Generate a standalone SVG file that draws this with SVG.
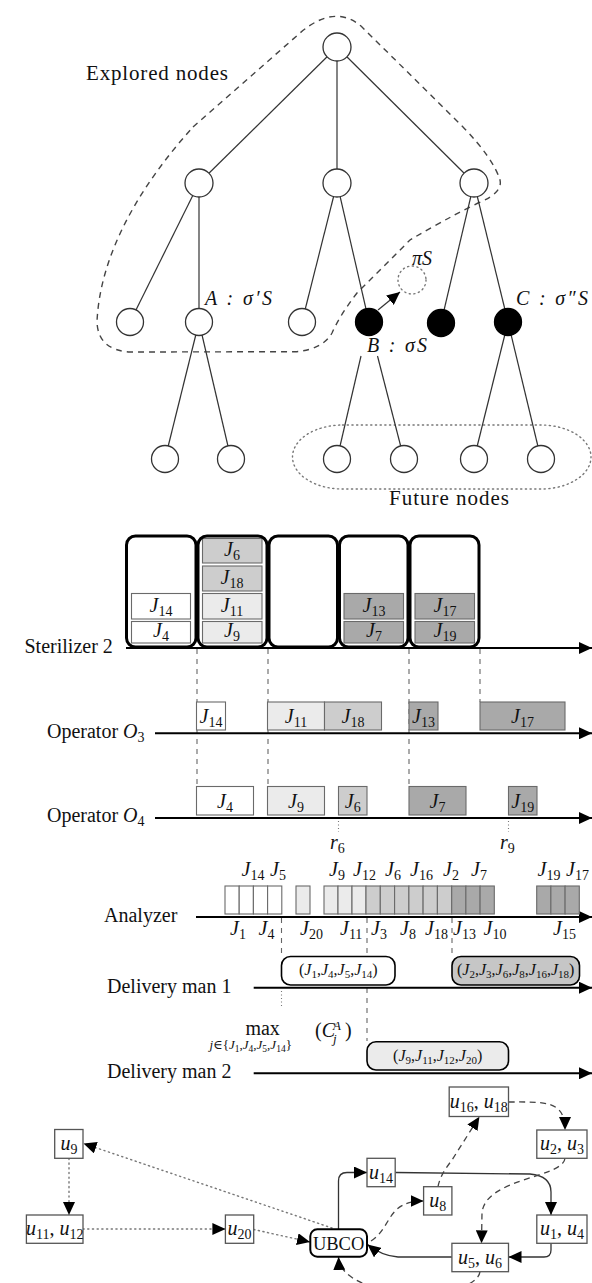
<svg xmlns="http://www.w3.org/2000/svg" width="592" height="1283" viewBox="0 0 592 1283" font-family="Liberation Serif, Times New Roman, DejaVu Serif, serif">
<style>
text,tspan{font-family:'Liberation Serif','Times New Roman','DejaVu Serif',serif}
.t{fill:#111}
.it{font-style:italic}
.jl{font-size:20px}
.s{font-size:14px}
.edge{stroke:#333;stroke-width:1.2;fill:none}
.node{fill:#fff;stroke:#333;stroke-width:1.3}
.fnode{fill:#000;stroke:#000;stroke-width:1.3}
.bound{fill:none;stroke:#444;stroke-width:1.4;stroke-dasharray:6,5}
.future{fill:none;stroke:#777;stroke-width:1.4;stroke-dasharray:1.2,3.5;stroke-linecap:round}
.ster{fill:none;stroke:#000;stroke-width:3}
.job{stroke:#6a6a6a;stroke-width:1.1}
.w{fill:#fff}.l{fill:#ebebeb}.m{fill:#cdcdcd}.d{fill:#a9a9a9}
.axis{stroke:#000;stroke-width:2;fill:none}
.vd{stroke:#666;stroke-width:1.1;stroke-dasharray:5,5;fill:none}
.vdot{stroke:#777;stroke-width:1.1;stroke-dasharray:1,2.5;fill:none}
.box{fill:#fff;stroke:#555;stroke-width:1.3}
.dbox{stroke:#000;stroke-width:1.6}
.c-solid{stroke:#333;stroke-width:1.3;fill:none}
.c-dash{stroke:#444;stroke-width:1.3;fill:none;stroke-dasharray:6,4.5}
.c-dot{stroke:#777;stroke-width:1.4;fill:none;stroke-dasharray:1.2,3.5;stroke-linecap:round}
</style>
<defs>
<marker id="ax" markerUnits="userSpaceOnUse" viewBox="0 0 13 12" refX="13" refY="6" markerWidth="13" markerHeight="12" orient="auto"><path d="M0,0 L13,6 L0,12 Z" fill="#000"/></marker>
<marker id="ar" markerUnits="userSpaceOnUse" viewBox="0 0 13 12" refX="13" refY="6" markerWidth="13" markerHeight="12" orient="auto"><path d="M0,0 L13,6 L0,12 Z" fill="#000"/></marker>
</defs>

<!-- ============ TREE ============ -->
<g id="tree-regions">
<path class="bound" d="M 193,127 L 300,33 Q 335,3 362,27 L 463,127 Q 493,158 500,180 Q 503,193 478,203 Q 440,222 410,240 L 357,293 Q 340,315 332,333 Q 322,350 295,351.7 L 130,352 Q 98,350 97,322 C 100,250 145,180 193,127 Z"/>
<rect class="future" x="292.5" y="425" width="298.5" height="64" rx="50" ry="32"/>
<text class="t" x="86" y="80" font-size="21" textLength="142" lengthAdjust="spacing">Explored nodes</text>
<text class="t" x="389" y="505" font-size="21" textLength="120" lengthAdjust="spacing">Future nodes</text>
</g>
<g id="tree-edges">
<line class="edge" x1="337" y1="47" x2="199" y2="183"/>
<line class="edge" x1="337" y1="47" x2="337" y2="183"/>
<line class="edge" x1="337" y1="47" x2="474" y2="183"/>
<line class="edge" x1="199" y1="183" x2="130" y2="322"/>
<line class="edge" x1="199" y1="183" x2="199" y2="322"/>
<line class="edge" x1="337" y1="183" x2="302" y2="322"/>
<line class="edge" x1="337" y1="183" x2="369" y2="322"/>
<line class="edge" x1="474" y1="183" x2="441" y2="323"/>
<line class="edge" x1="474" y1="183" x2="508" y2="322"/>
<line class="edge" x1="199" y1="322" x2="165" y2="459"/>
<line class="edge" x1="199" y1="322" x2="231" y2="459"/>
<line class="edge" x1="361" y1="356" x2="337" y2="459"/>
<line class="edge" x1="377.5" y1="356" x2="404" y2="459"/>
<line class="edge" x1="508" y1="322" x2="474" y2="459"/>
<line class="edge" x1="508" y1="322" x2="541" y2="459"/>
<line class="edge" x1="378" y1="310" x2="400" y2="292" marker-end="url(#ar)"/>
</g>
<g id="n-root"><circle class="node" cx="337" cy="47" r="14"/></g>
<g id="n-1a"><circle class="node" cx="199" cy="183" r="14"/></g>
<g id="n-1b"><circle class="node" cx="337" cy="183" r="14"/></g>
<g id="n-1c"><circle class="node" cx="474" cy="183" r="14"/></g>
<g id="n-2a"><circle class="node" cx="130" cy="322" r="13.5"/></g>
<g id="n-A"><circle class="node" cx="199" cy="322" r="13.5"/>
<text class="t it" x="205" y="305" font-size="20" textLength="67" lengthAdjust="spacing">A : σ′S</text></g>
<g id="n-2c"><circle class="node" cx="302" cy="322" r="13.5"/></g>
<g id="n-B"><circle class="fnode" cx="369" cy="322" r="13.5"/>
<text class="t it" x="367" y="352" font-size="20" textLength="60" lengthAdjust="spacing">B : σS</text></g>
<g id="n-2e"><circle class="fnode" cx="441" cy="323" r="13.5"/></g>
<g id="n-C"><circle class="fnode" cx="508" cy="322" r="13.5"/>
<text class="t it" x="516" y="305" font-size="20" textLength="72" lengthAdjust="spacing">C : σ″S</text></g>
<g id="n-piS"><circle class="future" cx="412" cy="280" r="14"/>
<text class="t it" x="412" y="265" font-size="20">πS</text></g>
<g id="n-3a"><circle class="node" cx="165" cy="459" r="13.5"/></g>
<g id="n-3b"><circle class="node" cx="231" cy="459" r="13.5"/></g>
<g id="n-3c"><circle class="node" cx="337" cy="459" r="13.5"/></g>
<g id="n-3d"><circle class="node" cx="404" cy="459" r="13.5"/></g>
<g id="n-3e"><circle class="node" cx="474" cy="459" r="13.5"/></g>
<g id="n-3f"><circle class="node" cx="541" cy="459" r="13.5"/></g>

<!-- ============ GANTT ============ -->
<g id="gantt-guides">
<line class="vd" x1="197" y1="649" x2="197" y2="786"/>
<line class="vd" x1="268" y1="649" x2="268" y2="786"/>
<line class="vd" x1="409" y1="649" x2="409" y2="786"/>
<line class="vd" x1="480" y1="649" x2="480" y2="702"/>
<line class="vdot" x1="338.5" y1="821" x2="338.5" y2="832"/>
<line class="vdot" x1="508.5" y1="821" x2="508.5" y2="832"/>
<line class="vd" x1="281.5" y1="918" x2="281.5" y2="956"/>
<line class="vd" x1="367" y1="918" x2="367" y2="1041"/>
<line class="vd" x1="452" y1="918" x2="452" y2="956"/>
<line class="vdot" x1="281.5" y1="991" x2="281.5" y2="1007"/>
</g>

<g id="sterilizer">
<line class="axis" x1="126" y1="648" x2="592" y2="648" marker-end="url(#ax)"/>
<text class="t" x="24.5" y="653" font-size="20">Sterilizer 2</text>
<rect class="job w" x="131.5" y="593.5" width="59" height="25.5"/>
<rect class="job w" x="131.5" y="621.5" width="59" height="21.5"/>
<rect class="job m" x="202.5" y="538.5" width="59.5" height="24.5"/>
<rect class="job m" x="202.5" y="566" width="59.5" height="25"/>
<rect class="job l" x="202.5" y="593.5" width="59.5" height="25.5"/>
<rect class="job l" x="202.5" y="621.5" width="59.5" height="21.5"/>
<rect class="job d" x="344" y="593.5" width="59.5" height="25.5"/>
<rect class="job d" x="344" y="621.5" width="59.5" height="21.5"/>
<rect class="job d" x="415" y="593.5" width="59.5" height="25.5"/>
<rect class="job d" x="415" y="621.5" width="59.5" height="21.5"/>
<rect class="ster" x="126.5" y="536" width="69.5" height="111" rx="9"/>
<rect class="ster" x="198" y="536" width="69" height="111" rx="9"/>
<rect class="ster" x="269" y="536" width="68.5" height="111" rx="9"/>
<rect class="ster" x="339.5" y="536" width="68.5" height="111" rx="9"/>
<rect class="ster" x="410" y="536" width="69" height="111" rx="9"/>
<text class="t jl" x="161" y="612" text-anchor="middle"><tspan class="it">J</tspan><tspan class="s" dy="4">14</tspan></text>
<text class="t jl" x="161" y="637" text-anchor="middle"><tspan class="it">J</tspan><tspan class="s" dy="4">4</tspan></text>
<text class="t jl" x="232" y="556" text-anchor="middle"><tspan class="it">J</tspan><tspan class="s" dy="4">6</tspan></text>
<text class="t jl" x="232" y="584" text-anchor="middle"><tspan class="it">J</tspan><tspan class="s" dy="4">18</tspan></text>
<text class="t jl" x="232" y="612" text-anchor="middle"><tspan class="it">J</tspan><tspan class="s" dy="4">11</tspan></text>
<text class="t jl" x="232" y="637" text-anchor="middle"><tspan class="it">J</tspan><tspan class="s" dy="4">9</tspan></text>
<text class="t jl" x="374" y="612" text-anchor="middle"><tspan class="it">J</tspan><tspan class="s" dy="4">13</tspan></text>
<text class="t jl" x="374" y="637" text-anchor="middle"><tspan class="it">J</tspan><tspan class="s" dy="4">7</tspan></text>
<text class="t jl" x="445" y="612" text-anchor="middle"><tspan class="it">J</tspan><tspan class="s" dy="4">17</tspan></text>
<text class="t jl" x="445" y="637" text-anchor="middle"><tspan class="it">J</tspan><tspan class="s" dy="4">19</tspan></text>
</g>

<g id="operator-o3">
<line class="axis" x1="155" y1="733.3" x2="592" y2="733.3" marker-end="url(#ax)"/>
<text class="t" x="47" y="738" font-size="20">Operator <tspan class="it">O</tspan><tspan class="s" dy="4">3</tspan></text>
<rect class="job w" x="196.5" y="702" width="29" height="28"/>
<rect class="job l" x="267.5" y="702" width="57" height="28"/>
<rect class="job m" x="324.5" y="702" width="57" height="28"/>
<rect class="job d" x="409" y="702" width="29" height="28"/>
<rect class="job d" x="480" y="702" width="85" height="28"/>
<text class="t jl" x="211" y="723" text-anchor="middle"><tspan class="it">J</tspan><tspan class="s" dy="4">14</tspan></text>
<text class="t jl" x="296" y="723" text-anchor="middle"><tspan class="it">J</tspan><tspan class="s" dy="4">11</tspan></text>
<text class="t jl" x="353" y="723" text-anchor="middle"><tspan class="it">J</tspan><tspan class="s" dy="4">18</tspan></text>
<text class="t jl" x="423.5" y="723" text-anchor="middle"><tspan class="it">J</tspan><tspan class="s" dy="4">13</tspan></text>
<text class="t jl" x="522.5" y="723" text-anchor="middle"><tspan class="it">J</tspan><tspan class="s" dy="4">17</tspan></text>
</g>

<g id="operator-o4">
<line class="axis" x1="155" y1="818" x2="592" y2="818" marker-end="url(#ax)"/>
<text class="t" x="47" y="822" font-size="20">Operator <tspan class="it">O</tspan><tspan class="s" dy="4">4</tspan></text>
<rect class="job w" x="196.5" y="786.5" width="57" height="28.5"/>
<rect class="job l" x="267.5" y="786.5" width="57" height="28.5"/>
<rect class="job m" x="338.5" y="786.5" width="28.5" height="28.5"/>
<rect class="job d" x="409" y="786.5" width="57" height="28.5"/>
<rect class="job d" x="508.5" y="786.5" width="28.5" height="28.5"/>
<text class="t jl" x="225" y="808" text-anchor="middle"><tspan class="it">J</tspan><tspan class="s" dy="4">4</tspan></text>
<text class="t jl" x="296" y="808" text-anchor="middle"><tspan class="it">J</tspan><tspan class="s" dy="4">9</tspan></text>
<text class="t jl" x="352.7" y="808" text-anchor="middle"><tspan class="it">J</tspan><tspan class="s" dy="4">6</tspan></text>
<text class="t jl" x="437.5" y="808" text-anchor="middle"><tspan class="it">J</tspan><tspan class="s" dy="4">7</tspan></text>
<text class="t jl" x="522.7" y="808" text-anchor="middle"><tspan class="it">J</tspan><tspan class="s" dy="4">19</tspan></text>
<text class="t jl" x="330" y="849"><tspan class="it">r</tspan><tspan class="s" dy="4">6</tspan></text>
<text class="t jl" x="500" y="849"><tspan class="it">r</tspan><tspan class="s" dy="4">9</tspan></text>
</g>

<g id="analyzer">
<line class="axis" x1="196" y1="917" x2="592" y2="917" marker-end="url(#ax)"/>
<text class="t" x="104" y="922" font-size="20">Analyzer</text>
<g class="job">
<rect class="w" x="225" y="886" width="14.2" height="28"/>
<rect class="w" x="239.2" y="886" width="14.2" height="28"/>
<rect class="w" x="253.4" y="886" width="14.2" height="28"/>
<rect class="w" x="267.6" y="886" width="14.2" height="28"/>
<rect class="l" x="296" y="886" width="14" height="28"/>
<rect class="l" x="324" y="886" width="14" height="28"/>
<rect class="l" x="338" y="886" width="14" height="28"/>
<rect class="l" x="352" y="886" width="14" height="28"/>
<rect class="m" x="366" y="886" width="14.3" height="28"/>
<rect class="m" x="380.3" y="886" width="14.3" height="28"/>
<rect class="m" x="394.6" y="886" width="14.3" height="28"/>
<rect class="m" x="408.9" y="886" width="14.2" height="28"/>
<rect class="m" x="423.1" y="886" width="14.3" height="28"/>
<rect class="m" x="437.4" y="886" width="14.3" height="28"/>
<rect class="d" x="451.7" y="886" width="14.2" height="28"/>
<rect class="d" x="465.9" y="886" width="14.2" height="28"/>
<rect class="d" x="480.1" y="886" width="14.2" height="28"/>
<rect class="d" x="536.7" y="886" width="14.2" height="28"/>
<rect class="d" x="550.9" y="886" width="14.2" height="28"/>
<rect class="d" x="565.1" y="886" width="14.2" height="28"/>
</g>
<text class="t jl" x="241.5" y="876"><tspan class="it">J</tspan><tspan class="s" dy="4">14</tspan></text>
<text class="t jl" x="270" y="876"><tspan class="it">J</tspan><tspan class="s" dy="4">5</tspan></text>
<text class="t jl" x="329" y="876"><tspan class="it">J</tspan><tspan class="s" dy="4">9</tspan></text>
<text class="t jl" x="353" y="876"><tspan class="it">J</tspan><tspan class="s" dy="4">12</tspan></text>
<text class="t jl" x="385" y="876"><tspan class="it">J</tspan><tspan class="s" dy="4">6</tspan></text>
<text class="t jl" x="410" y="876"><tspan class="it">J</tspan><tspan class="s" dy="4">16</tspan></text>
<text class="t jl" x="443" y="876"><tspan class="it">J</tspan><tspan class="s" dy="4">2</tspan></text>
<text class="t jl" x="471" y="876"><tspan class="it">J</tspan><tspan class="s" dy="4">7</tspan></text>
<text class="t jl" x="537.5" y="876"><tspan class="it">J</tspan><tspan class="s" dy="4">19</tspan></text>
<text class="t jl" x="566" y="876"><tspan class="it">J</tspan><tspan class="s" dy="4">17</tspan></text>
<text class="t jl" x="230" y="935"><tspan class="it">J</tspan><tspan class="s" dy="4">1</tspan></text>
<text class="t jl" x="258.5" y="935"><tspan class="it">J</tspan><tspan class="s" dy="4">4</tspan></text>
<text class="t jl" x="300" y="935"><tspan class="it">J</tspan><tspan class="s" dy="4">20</tspan></text>
<text class="t jl" x="340" y="935"><tspan class="it">J</tspan><tspan class="s" dy="4">11</tspan></text>
<text class="t jl" x="371" y="935"><tspan class="it">J</tspan><tspan class="s" dy="4">3</tspan></text>
<text class="t jl" x="400" y="935"><tspan class="it">J</tspan><tspan class="s" dy="4">8</tspan></text>
<text class="t jl" x="425" y="935"><tspan class="it">J</tspan><tspan class="s" dy="4">18</tspan></text>
<text class="t jl" x="453" y="935"><tspan class="it">J</tspan><tspan class="s" dy="4">13</tspan></text>
<text class="t jl" x="483.5" y="935"><tspan class="it">J</tspan><tspan class="s" dy="4">10</tspan></text>
<text class="t jl" x="553" y="935"><tspan class="it">J</tspan><tspan class="s" dy="4">15</tspan></text>
</g>

<g id="delivery-1">
<line class="axis" x1="253.7" y1="987.7" x2="592" y2="987.7" marker-end="url(#ax)"/>
<text class="t" x="107" y="993" font-size="20">Delivery man 1</text>
<rect class="dbox w" x="281.5" y="956.5" width="113.5" height="28.5" rx="9"/>
<rect class="dbox" fill="#c6c6c6" x="452" y="956.5" width="127.5" height="28.5" rx="9"/>
<text class="t" x="338.3" y="975" text-anchor="middle" font-size="16">(<tspan class="it">J</tspan><tspan font-size="11" dy="3">1</tspan><tspan dy="-3">,</tspan><tspan class="it">J</tspan><tspan font-size="11" dy="3">4</tspan><tspan dy="-3">,</tspan><tspan class="it">J</tspan><tspan font-size="11" dy="3">5</tspan><tspan dy="-3">,</tspan><tspan class="it">J</tspan><tspan font-size="11" dy="3">14</tspan><tspan dy="-3">)</tspan></text>
<text class="t" x="515.7" y="975" text-anchor="middle" font-size="16">(<tspan class="it">J</tspan><tspan font-size="11" dy="3">2</tspan><tspan dy="-3">,</tspan><tspan class="it">J</tspan><tspan font-size="11" dy="3">3</tspan><tspan dy="-3">,</tspan><tspan class="it">J</tspan><tspan font-size="11" dy="3">6</tspan><tspan dy="-3">,</tspan><tspan class="it">J</tspan><tspan font-size="11" dy="3">8</tspan><tspan dy="-3">,</tspan><tspan class="it">J</tspan><tspan font-size="11" dy="3">16</tspan><tspan dy="-3">,</tspan><tspan class="it">J</tspan><tspan font-size="11" dy="3">18</tspan><tspan dy="-3">)</tspan></text>
</g>

<g id="max-formula">
<text class="t" x="245.4" y="1035" font-size="20">max</text>
<text class="t" x="209.5" y="1049" font-size="13"><tspan class="it">j</tspan>∈{<tspan class="it">J</tspan><tspan font-size="9.5" dy="2.5">1</tspan><tspan dy="-2.5">,</tspan><tspan class="it">J</tspan><tspan font-size="9.5" dy="2.5">4</tspan><tspan dy="-2.5">,</tspan><tspan class="it">J</tspan><tspan font-size="9.5" dy="2.5">5</tspan><tspan dy="-2.5">,</tspan><tspan class="it">J</tspan><tspan font-size="9.5" dy="2.5">14</tspan><tspan dy="-2.5">}</tspan></text>
<text class="t" x="315" y="1037" font-size="20">(<tspan class="it">C</tspan></text>
<text class="t it" x="333" y="1030" font-size="13">A</text>
<text class="t it" x="333" y="1043" font-size="13">j</text>
<text class="t" x="345" y="1037" font-size="20">)</text>
</g>

<g id="delivery-2">
<line class="axis" x1="253.7" y1="1073.3" x2="592" y2="1073.3" marker-end="url(#ax)"/>
<text class="t" x="107" y="1078" font-size="20">Delivery man 2</text>
<rect class="dbox l" x="367" y="1041.7" width="141.5" height="28.3" rx="9"/>
<text class="t" x="437.7" y="1060.5" text-anchor="middle" font-size="16">(<tspan class="it">J</tspan><tspan font-size="11" dy="3">9</tspan><tspan dy="-3">,</tspan><tspan class="it">J</tspan><tspan font-size="11" dy="3">11</tspan><tspan dy="-3">,</tspan><tspan class="it">J</tspan><tspan font-size="11" dy="3">12</tspan><tspan dy="-3">,</tspan><tspan class="it">J</tspan><tspan font-size="11" dy="3">20</tspan><tspan dy="-3">)</tspan></text>
</g>

<!-- ============ ROUTING GRAPH ============ -->
<g id="connectors">
<path class="c-solid" d="M 338.5,1229 L 338.5,1181 Q 338.5,1172.5 347,1172.5 L 367,1172.5" marker-end="url(#ar)"/>
<path class="c-solid" d="M 395.5,1172.5 L 530,1174 Q 551,1176 551,1192 L 551,1215" marker-end="url(#ar)"/>
<path class="c-solid" d="M 551,1243.3 L 551,1250 Q 551,1257 544,1257 L 508.5,1257" marker-end="url(#ar)"/>
<path class="c-solid" d="M 451.9,1257 L 398,1257 Q 382,1256 367.5,1244.5" marker-end="url(#ar)"/>
<path class="c-dash" d="M 371,1241 C 392,1228 386,1201 423.5,1201" marker-end="url(#ar)"/>
<path class="c-dash" d="M 438,1186.7 C 440,1176 446,1168 452,1160 L 479.4,1116.7" marker-end="url(#ar)"/>
<path class="c-dash" d="M 508.5,1102 C 545,1102 565,1100 565,1130" marker-end="url(#ar)"/>
<path class="c-dash" d="M 565,1158.3 C 563,1178 485,1178 482,1213 L 481.5,1243.3" marker-end="url(#ar)"/>
<path class="c-dash" d="M 480,1271.7 C 476,1302 341,1302 338.5,1257" marker-end="url(#ar)"/>
<path class="c-dot" d="M 332,1228 L 83.5,1143.5" marker-end="url(#ar)"/>
<path class="c-dot" d="M 69,1158.3 L 69,1215" marker-end="url(#ar)"/>
<path class="c-dot" d="M 83,1229 L 225.4,1229" marker-end="url(#ar)"/>
<path class="c-dot" d="M 253.7,1229.5 L 310,1242" marker-end="url(#ar)"/>
</g>
<g id="u16u18"><rect class="box" x="449.2" y="1087" width="59.3" height="29.5"/>
<text class="t jl" x="478.8" y="1108" text-anchor="middle"><tspan class="it">u</tspan><tspan class="s" dy="4">16</tspan><tspan dy="-4">, </tspan><tspan class="it">u</tspan><tspan class="s" dy="4">18</tspan></text></g>
<g id="u2u3"><rect class="box" x="536.8" y="1130" width="50.2" height="28.3"/>
<text class="t jl" x="562" y="1150" text-anchor="middle"><tspan class="it">u</tspan><tspan class="s" dy="4">2</tspan><tspan dy="-4">, </tspan><tspan class="it">u</tspan><tspan class="s" dy="4">3</tspan></text></g>
<g id="u9"><rect class="box" x="54.7" y="1129.5" width="28.3" height="28.8"/>
<text class="t jl" x="69" y="1150" text-anchor="middle"><tspan class="it">u</tspan><tspan class="s" dy="4">9</tspan></text></g>
<g id="u14"><rect class="box" x="367" y="1158.3" width="28.2" height="28.4"/>
<text class="t jl" x="381" y="1178.5" text-anchor="middle"><tspan class="it">u</tspan><tspan class="s" dy="4">14</tspan></text></g>
<g id="u8"><rect class="box" x="423.6" y="1186.7" width="28.3" height="28.3"/>
<text class="t jl" x="437.8" y="1207" text-anchor="middle"><tspan class="it">u</tspan><tspan class="s" dy="4">8</tspan></text></g>
<g id="u11u12"><rect class="box" x="26.4" y="1215" width="56.6" height="28.3"/>
<text class="t jl" x="54.7" y="1235" text-anchor="middle"><tspan class="it">u</tspan><tspan class="s" dy="4">11</tspan><tspan dy="-4">, </tspan><tspan class="it">u</tspan><tspan class="s" dy="4">12</tspan></text></g>
<g id="u20"><rect class="box" x="225.4" y="1215" width="28.3" height="28.3"/>
<text class="t jl" x="239.5" y="1235" text-anchor="middle"><tspan class="it">u</tspan><tspan class="s" dy="4">20</tspan></text></g>
<g id="ubco"><rect fill="#fff" stroke="#000" stroke-width="2" x="310.3" y="1229.3" width="56.7" height="27.4" rx="7"/>
<text class="t" x="338.6" y="1250" text-anchor="middle" font-size="18.5">UBCO</text></g>
<g id="u1u4"><rect class="box" x="536.8" y="1215" width="50.2" height="28.3"/>
<text class="t jl" x="562" y="1235" text-anchor="middle"><tspan class="it">u</tspan><tspan class="s" dy="4">1</tspan><tspan dy="-4">, </tspan><tspan class="it">u</tspan><tspan class="s" dy="4">4</tspan></text></g>
<g id="u5u6"><rect class="box" x="451.9" y="1243.3" width="56.6" height="28.4"/>
<text class="t jl" x="480" y="1263.5" text-anchor="middle"><tspan class="it">u</tspan><tspan class="s" dy="4">5</tspan><tspan dy="-4">, </tspan><tspan class="it">u</tspan><tspan class="s" dy="4">6</tspan></text></g>
</svg>
